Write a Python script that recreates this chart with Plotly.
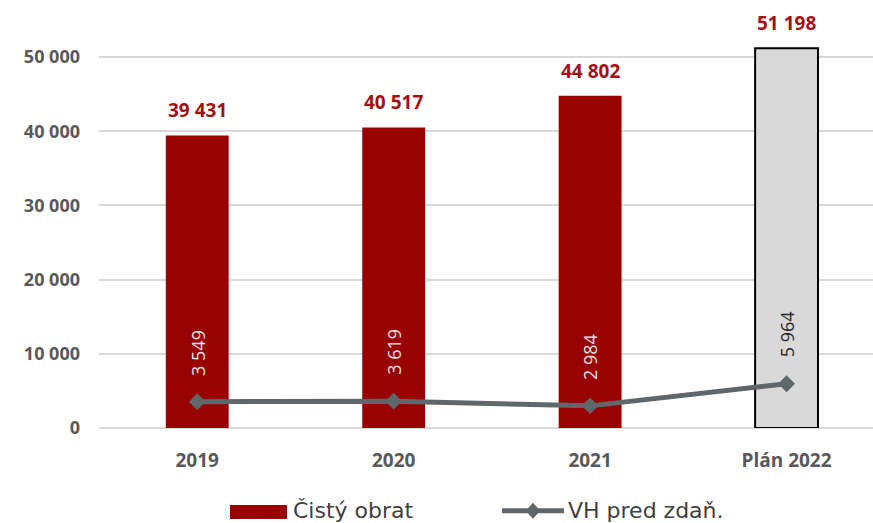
import plotly.graph_objects as go

categories = ["2019", "2020", "2021", "Plán 2022"]
obrat = [39431, 40517, 44802, 51198]
vh = [3549, 3619, 2984, 5964]
tick_vals = [0, 10000, 20000, 30000, 40000, 50000]
legend_names = ["Čistý obrat", "VH pred zdaň."]

def fmt(v):
    return f"{v:,}".replace(",", " ")

RED = "#990000"
GRAY_LINE = "#5F676B"
bar_colors = [RED, RED, RED, "#D9D9D9"]
bar_lines = [RED, RED, RED, "#000000"]
bar_lw = [0, 0, 0, 2]

fig = go.Figure()
fig.add_trace(go.Bar(
    x=categories, y=obrat, name=legend_names[0],
    marker=dict(color=bar_colors, line=dict(color=bar_lines, width=bar_lw)),
    width=0.32,
))
fig.add_trace(go.Scatter(
    x=categories, y=vh, name=legend_names[1], mode="lines+markers",
    line=dict(color=GRAY_LINE, width=5),
    marker=dict(symbol="diamond", size=13, color=GRAY_LINE),
))

annotations = []
for i, v in enumerate(obrat):
    annotations.append(dict(x=i, y=v, xref="x", yref="y", text=fmt(v), showarrow=False, yanchor="bottom",
                            yshift=10, font=dict(family="Open Sans", size=19, color="#A50F15", weight="bold")))
for i, v in enumerate(vh):
    col = "#E6E6E6" if i < 3 else "#262626"
    annotations.append(dict(x=i, y=v, xref="x", yref="y", text=fmt(v), showarrow=False, yanchor="bottom",
                            yshift=24, textangle=-90, font=dict(family="Open Sans", size=18, color=col)))

# manual legend (paper coords)
LEG_Y = -0.203
leg_font = dict(family="DejaVu Sans", size=22, color="#404040")
annotations.append(dict(x=0.2481, y=LEG_Y, xref="paper", yref="paper", text=legend_names[0], showarrow=False,
                        xanchor="left", yanchor="middle", font=leg_font))
annotations.append(dict(x=0.6034, y=LEG_Y, xref="paper", yref="paper", text=legend_names[1], showarrow=False,
                        xanchor="left", yanchor="middle", font=leg_font))
dx, dy, cx = 0.0095, 0.0196, 0.5607
shapes = [
    dict(type="rect", xref="paper", yref="paper", x0=0.1693, x1=0.2429, y0=-0.189, y1=-0.223,
         fillcolor=RED, line=dict(width=0)),
    dict(type="line", xref="paper", yref="paper", x0=0.5207, x1=0.6008, y0=LEG_Y, y1=LEG_Y,
         line=dict(color=GRAY_LINE, width=5)),
    dict(type="path", xref="paper", yref="paper",
         path=f"M {cx-dx},{LEG_Y} L {cx},{LEG_Y+dy} L {cx+dx},{LEG_Y} L {cx},{LEG_Y-dy} Z",
         fillcolor=GRAY_LINE, line=dict(width=0)),
]

fig.update_layout(
    width=873, height=523,
    margin=dict(l=99, r=0, t=20, b=95),
    plot_bgcolor="white", paper_bgcolor="white",
    showlegend=False,
    annotations=annotations,
    shapes=shapes,
    xaxis=dict(range=[-0.5, 3.44], showgrid=False, showline=False, automargin=False,
               tickfont=dict(family="Open Sans", size=19, color="#595959", weight="bold"),
               ticklabelstandoff=19),
    yaxis=dict(range=[0, 55000], tickvals=tick_vals, ticktext=[fmt(t) for t in tick_vals],
               showgrid=True, gridcolor="#D9D9D9", gridwidth=2, automargin=False,
               zeroline=True, zerolinecolor="#D9D9D9", zerolinewidth=2,
               tickfont=dict(family="Open Sans", size=18, color="#595959", weight="bold"),
               ticklabelstandoff=18),
)

fig.write_html("out.html", config={"displayModeBar": False},
               post_script="document.body.style.margin='0';document.body.style.overflow='hidden';")
